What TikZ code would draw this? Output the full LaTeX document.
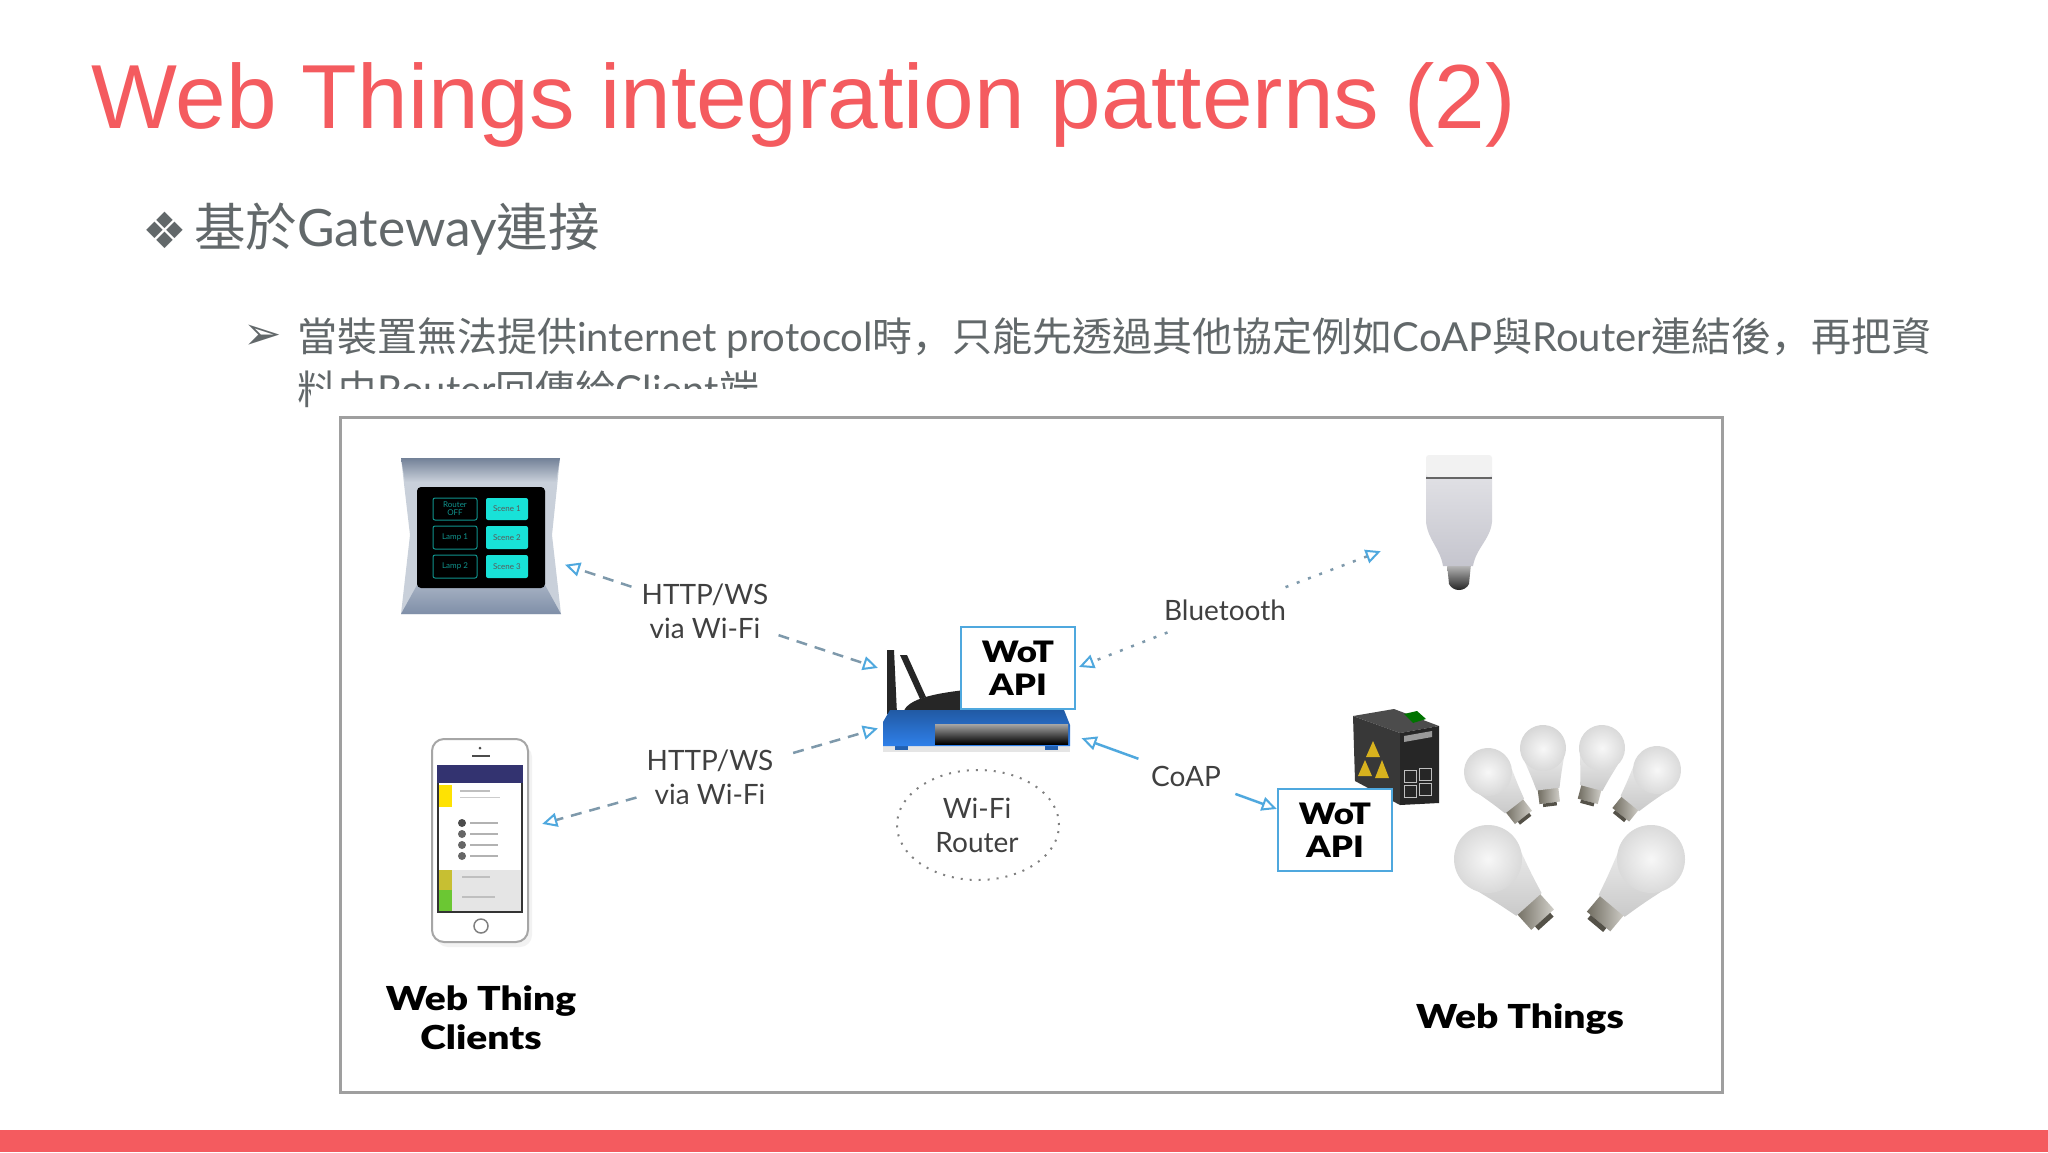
\documentclass[tikz,border=0pt]{standalone}
\usepackage{fontspec}
\setmainfont{Lato}
\newfontfamily\cjk{Noto Sans CJK TC}
\newfontfamily\cjkcomma{Noto Sans CJK SC}
\newfontfamily\symb{DejaVu Sans}
\newfontfamily\widebold[FakeStretch=1.18]{Lato Black}
\usetikzlibrary{arrows.meta,positioning,shapes.geometric}
\definecolor{salmon}{HTML}{F45B5F}
\definecolor{slate}{HTML}{62686A}
\definecolor{wotblue}{HTML}{4FA8DE}
\definecolor{linkgrey}{HTML}{7E99AB}
\definecolor{routerblue}{HTML}{2F80EA}
\definecolor{scenecyan}{HTML}{18E2D8}
\definecolor{steel}{HTML}{7F8FA8}
\definecolor{panelgrey}{HTML}{C9D0DA}
\definecolor{warn}{HTML}{D8B21E}
\definecolor{socket}{HTML}{8C8778}
\tikzset{
  bulbicon/.pic={
    \shade[left color=socket!80!black,right color=socket!40] (-.45,1.7) rectangle (.45,2.4);
    \fill[socket!60!black] (-.3,2.4) rectangle (.3,2.55);
    \shade[top color=gray!18,bottom color=gray!42] (-.86,.5) .. controls (-.65,1.2) .. (-.5,1.8) -- (.5,1.8) .. controls (.65,1.2) .. (.86,.5) -- cycle;
    \shade[inner color=gray!6,outer color=gray!32] (0,0) circle (1);
  }
}
\begin{document}
\begin{tikzpicture}[x=1pt,y=-1pt,
            texts/.style={inner sep=0,anchor=west,text=slate},
            lab/.style={align=center,inner xsep=10pt,inner ysep=2pt,text=black!75,font=\fontsize{28}{34}\selectfont},
            caption/.style={align=center,inner sep=0,font=\fontsize{33}{39}\selectfont\widebold},
            api/.style={draw=wotblue,line width=2.5pt,fill=white,align=center,minimum width=114pt,minimum height=82pt,inner sep=0,font=\fontsize{29.5}{33}\selectfont\widebold},
            icon/.style={inner sep=0},
            link/.style={draw=linkgrey,line width=2.5pt,-{Triangle[open,length=15pt,width=14pt,color=wotblue,line width=2pt]}},
            dashlink/.style={link,dash pattern=on 11pt off 8pt},
            dotlink/.style={link,dash pattern=on 3pt off 9pt},
            solidlink/.style={link,draw=wotblue},
            button/.style={draw=scenecyan!65!black,line width=1pt,rounded corners=2pt,text=scenecyan!65!black,font=\fontsize{8}{8}\selectfont,align=center},
            scene/.style={fill=scenecyan,rounded corners=2pt,text=black!65,font=\fontsize{8}{8}\selectfont}
          ]
          \useasboundingbox (0,0) rectangle (2048,1152);
          \fill[white] (0,0) rectangle (2048,1152);
          \fill[salmon] (0,1130) rectangle (2048,1152);

          %slide text
          \node[inner sep=0,anchor=west,text=salmon,font=\fontsize{91}{100}\selectfont\fontspec{Liberation Sans}] (title) at (91,105) {Web Things integration patterns (2)};
          \node[texts,font=\fontsize{50}{50}\selectfont\symb] (mark) at (142,230) {❖};
          \node[texts,font=\fontsize{51.5}{60}\selectfont] (head) at (194,229) {{\cjk 基於}Gateway{\cjk 連接}};
          \node[texts,font=\fontsize{46}{46}\selectfont\symb] (arrowmark) at (243,337) {➢};
          \node[texts,font=\fontsize{40}{50}\selectfont] (itema) at (297,338) {{\cjk 當裝置無法提供}internet protocol{\cjk 時}{\cjkcomma ，}{\cjk 只能先透過其他協定例如}CoAP{\cjk 與}Router{\cjk 連結後}{\cjkcomma ，}{\cjk 再把資}};
          \node[texts,font=\fontsize{40}{50}\selectfont] (itemb) at (297,389) {{\cjk 料由}Router{\cjk 回傳給}Client{\cjk 端}};

          %picture frame
          \fill[white] (311,389) rectangle (1750,1110);
          \draw[gray!75,line width=3pt] (340,417) rectangle (1722,1092);

          %panel
          \fill[panelgrey] (401,458) -- (560,458) -- (552,535) -- (561,614) -- (401,614) -- (410,535) -- cycle;
          \shade[top color=steel!90!black,bottom color=panelgrey] (401,458) -- (560,458) -- (556,482) -- (405,482) -- cycle;
          \shade[top color=steel!70,bottom color=steel] (417,585) -- (545,585) -- (561,614) -- (401,614) -- cycle;
          \fill[black,rounded corners=4pt] (417,487) rectangle (545,588);
          \draw[button] (433,498) rectangle node {Router\\OFF} (477,520);
          \draw[button] (433,526) rectangle node {Lamp 1} (477,549);
          \draw[button] (433,555) rectangle node {Lamp 2} (477,578);
          \path[scene] (486,498) rectangle node {Scene 1} (528,520);
          \path[scene] (486,526) rectangle node {Scene 2} (528,549);
          \path[scene] (486,555) rectangle node {Scene 3} (528,578);

          %phone
          \fill[gray!10,rounded corners=12pt] (436,745) rectangle (532,947);
          \draw[gray!70,fill=white,line width=2pt,rounded corners=12pt] (432,739) rectangle (528,942);
          \fill[black!80] (437,765) rectangle (523,913);
          \fill[white] (439,783) rectangle (521,870);
          \fill[gray!20] (439,870) rectangle (521,911);
          \fill[blue!30!black!80] (437,765) rectangle (523,783);
          \fill[yellow!85!orange] (439,785) rectangle (452,807);
          \fill[yellow!75!black] (439,870) rectangle (452,890);
          \fill[green!45!olive!80] (439,890) rectangle (452,911);
          \fill[gray!50] (460,790) rectangle (490,792);
          \fill[gray!40] (460,797) rectangle (500,798);
          \fill[gray!50] (462,876) rectangle (490,878);
          \fill[gray!50] (462,896) rectangle (495,898);
          \fill[black!70] (462,823) circle (4);
          \fill[black!60] (462,834) circle (4);
          \fill[black!60] (462,845) circle (4);
          \fill[black!60] (462,856) circle (4);
          \fill[gray!60] (470,822) rectangle (498,824);
          \fill[gray!60] (470,833) rectangle (498,835);
          \fill[gray!60] (470,844) rectangle (498,846);
          \fill[gray!60] (470,855) rectangle (498,857);
          \fill[black!70] (472,755) rectangle (490,757);
          \fill[black!70] (480,748) circle (1.5);
          \draw[gray,line width=1.5pt] (481,926) circle (7);

          %router
          \fill[black!85] (887,650) -- (894,650) -- (897,714) -- (887,714) -- cycle;
          \fill[black!85] (900,655) -- (907,655) -- (926,697) -- (920,699) -- cycle;
          \fill[black!85] (903,714) .. controls (905,700) and (930,694) .. (965,690) -- (965,714) -- cycle;
          \fill[gray!20] (883,746) rectangle (1070,752);
          \fill[routerblue!75!black] (895,745) rectangle (908,750);
          \fill[routerblue!75!black] (1045,745) rectangle (1058,750);
          \shade[top color=routerblue!70!black,bottom color=routerblue] (890,710) -- (1064,710) -- (1070,725) -- (1070,746) -- (883,746) -- (883,722) -- cycle;
          \shade[top color=gray!70,bottom color=black] (935,724) rectangle (1068,744);

          %lamp
          \shade[top color=gray!50,bottom color=black!90] (1447,564) -- (1471,564) -- (1469,584) .. controls (1465,592) and (1453,592) .. (1449,584) -- cycle;
          \shade[top color=blue!8!gray!22,bottom color=blue!8!gray!42] (1426,474) -- (1492,474) -- (1492,522) .. controls (1490,540) and (1476,548) .. (1473,566) -- (1443,566) .. controls (1440,548) and (1428,540) .. (1426,522) -- cycle;
          \fill[gray!10,rounded corners=3pt] (1426,455) rectangle (1492,477);
          \fill[black!60] (1426,477) rectangle (1492,479);

          %gateway
          \fill[black!70] (1353,716) -- (1394,709) -- (1439,726) -- (1400,733) -- cycle;
          \fill[black!78] (1353,716) -- (1400,733) -- (1400,805) -- (1355,781) -- cycle;
          \fill[black!85] (1400,733) -- (1439,726) -- (1439,803) -- (1400,805) -- cycle;
          \fill[green!45!black] (1404,714) -- (1417,711) -- (1426,719) -- (1413,723) -- cycle;
          \fill[warn] (1373,741) -- (1380,757) -- (1366,757) -- cycle;
          \fill[warn] (1365,760) -- (1372,776) -- (1358,776) -- cycle;
          \fill[warn] (1382,760) -- (1389,778) -- (1375,778) -- cycle;
          \fill[white!60!black] (1404,736) -- (1432,731) -- (1432,737) -- (1404,742) -- cycle;
          \draw[gray!50,line width=1pt] (1404,770) rectangle (1416,782);
          \draw[gray!50,line width=1pt] (1419,768) rectangle (1431,780);
          \draw[gray!50,line width=1pt] (1404,785) rectangle (1416,797);
          \draw[gray!50,line width=1pt] (1419,783) rectangle (1431,795);

          %bulbs
          \pic (bulba) [rotate=38,scale=24] at (1488,772) {bulbicon};
          \pic (bulbb) [rotate=7,scale=23] at (1543,748) {bulbicon};
          \pic (bulbc) [rotate=-15,scale=23] at (1602,748) {bulbicon};
          \pic (bulbd) [rotate=-39,scale=24] at (1657,770) {bulbicon};
          \pic (bulbe) [rotate=42,scale=34] at (1488,859) {bulbicon};
          \pic (bulbf) [rotate=-40,scale=34] at (1651,859) {bulbicon};

          %device anchors
          \node[icon,minimum width=162pt,minimum height=159pt] (panel) at (481,537) {};
          \node[icon,minimum width=97pt,minimum height=204pt] (phone) at (481,841) {};
          \node[icon,minimum width=190pt,minimum height=102pt] (router) at (976,700) {};
          \node[icon,minimum width=70pt,minimum height=136pt] (lamp) at (1458,522) {};

          \node[api] (apia) at (1018,668) {WoT\\API};
          \node[api] (apib) at (1335,830) {WoT\\API};

          %labels
          \node[lab] (wifia) at (705,611) {HTTP/WS\\via Wi-Fi};
          \node[lab] (wifib) at (710,777) {HTTP/WS\\via Wi-Fi};
          \node[lab] (ble) at (1225,610) {Bluetooth};
          \node[lab] (coap) at (1186,776) {CoAP};
          \node[lab,inner sep=0] (routername) at (977,825) {Wi-Fi\\Router};
          \node[draw=black!50,dash pattern=on 2pt off 7pt,line width=2pt,ellipse,minimum width=162pt,minimum height=110pt] (routerring) at (978,825) {};
          \node[caption] (clients) at (481,1018) {Web Thing\\Clients};
          \node[caption] (things) at (1520,1019) {Web Things};

          %connectors
          \path
          (wifia) edge[dashlink,shorten >=3pt] (panel)
          (wifia) edge[dashlink,shorten >=3pt] (router)
          (wifib) edge[dashlink,shorten <=10pt,shorten >=3pt] (router)
          (wifib) edge[dashlink,shorten >=13pt] (phone)
          (ble) edge[dotlink,shorten <=27pt,shorten >=3pt] (apia.east)
          (ble) edge[dotlink,shorten <=29pt,shorten >=45pt] (lamp)
          (coap) edge[solidlink,shorten <=14pt,shorten >=11pt] (router)
          (coap) edge[solidlink,shorten <=16pt] (apib)
          ;
      \end{tikzpicture}
\end{document}
